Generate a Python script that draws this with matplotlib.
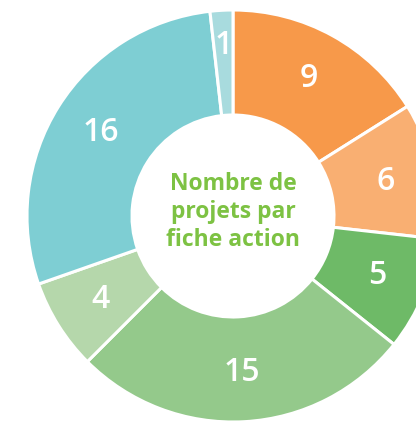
import matplotlib

matplotlib.use("Agg")
import matplotlib.pyplot as plt
import numpy as np

# données : nombre de projets par fiche action
valeurs = [9, 6, 5, 15, 4, 16, 1]
couleurs = ["#F7994A", "#F9AF72", "#6EBA67", "#94C98B", "#B5D7AB", "#7ECED3", "#A8DBDE"]
titre_centre = "Nombre de\nprojets par\nfiche action"

plt.rcParams["font.family"] = ["Open Sans", "DejaVu Sans"]

fig = plt.figure(figsize=(4.16, 4.21), dpi=100)
ax = fig.add_axes([0, 0, 1, 1])

cx, cy, R = 233, 421 - 216, 206
wedges, _ = ax.pie(
    valeurs,
    colors=couleurs,
    startangle=90,
    counterclock=False,
    center=(cx, cy),
    radius=R,
    wedgeprops=dict(width=R - 101, edgecolor="white", linewidth=2.2),
)

# étiquettes au milieu de l'anneau (la petite part un peu plus à l'extérieur)
for w, v in zip(wedges, valeurs):
    ang = np.deg2rad((w.theta1 + w.theta2) / 2)
    d = 0.83 if v == 1 else 0.76
    ax.text(cx + d * R * np.cos(ang), cy + d * R * np.sin(ang), str(v),
            ha="center", va="center", color="white", fontsize=23, fontweight="semibold")

ax.text(cx, cy + 4, titre_centre, ha="center", va="center",
        color="#7DC243", fontsize=16.5, fontweight="bold", linespacing=1.22)

ax.set_xlim(0, 416)
ax.set_ylim(0, 421)
ax.set_aspect("equal")
ax.axis("off")

plt.savefig("out.png", dpi=100)
plt.close(fig)
